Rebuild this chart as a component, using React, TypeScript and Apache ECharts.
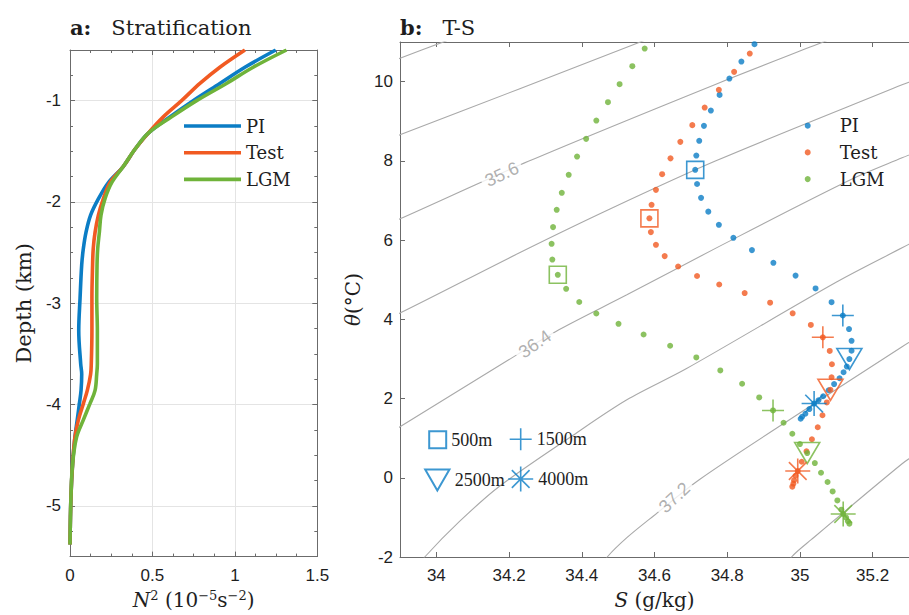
import React, { useEffect, useRef } from "react";
import * as echarts from "echarts";

// ---------- Panel a: stratification profiles ----------
const depthKm = [-0.5, -0.67, -0.83, -1.0, -1.16, -1.32, -1.48, -1.65, -1.81, -1.97, -2.13, -2.3, -2.46, -2.62, -2.95, -3.27, -3.6, -3.7, -3.86, -3.99, -4.15, -4.32, -4.58, -4.9, -5.38];
const n2PI = [1.248, 1.061, 0.909, 0.747, 0.606, 0.475, 0.394, 0.323, 0.232, 0.172, 0.125, 0.097, 0.081, 0.071, 0.061, 0.053, 0.065, 0.071, 0.067, 0.057, 0.044, 0.03, 0.016, 0.006, 0];
const n2Test = [1.061, 0.909, 0.788, 0.677, 0.566, 0.475, 0.394, 0.323, 0.242, 0.202, 0.172, 0.152, 0.141, 0.137, 0.133, 0.133, 0.129, 0.125, 0.105, 0.081, 0.051, 0.03, 0.016, 0.006, 0];
const n2LGM = [1.313, 1.111, 0.949, 0.768, 0.616, 0.475, 0.394, 0.323, 0.253, 0.212, 0.188, 0.178, 0.168, 0.164, 0.162, 0.166, 0.166, 0.162, 0.152, 0.121, 0.081, 0.04, 0.016, 0.006, 0];

// ---------- Panel b: T-S diagram ----------
const tsPI = [[34.875, 10.945], [34.839, 10.506], [34.806, 10.077], [34.779, 9.665], [34.755, 9.269], [34.736, 8.883], [34.723, 8.505], [34.715, 8.134], [34.712, 7.773], [34.717, 7.415], [34.728, 7.066], [34.748, 6.718], [34.777, 6.385], [34.817, 6.057], [34.868, 5.747], [34.927, 5.426], [34.988, 5.103], [35.043, 4.78], [35.087, 4.432], [35.118, 4.096], [35.135, 3.753], [35.142, 3.458], [35.142, 3.206], [35.136, 2.996], [35.129, 2.807], [35.12, 2.663], [35.109, 2.512], [35.094, 2.365], [35.079, 2.209], [35.064, 2.058], [35.051, 1.957], [35.039, 1.873], [35.026, 1.735], [35.015, 1.616], [35.006, 1.54], [35.002, 1.49]];
const tsTest = [[34.862, 10.708], [34.819, 10.246], [34.777, 9.792], [34.738, 9.345], [34.704, 8.901], [34.671, 8.479], [34.644, 8.063], [34.621, 7.664], [34.604, 7.268], [34.592, 6.89], [34.586, 6.549], [34.59, 6.201], [34.604, 5.88], [34.628, 5.595], [34.665, 5.333], [34.717, 5.093], [34.778, 4.879], [34.848, 4.662], [34.918, 4.419], [34.98, 4.152], [35.03, 3.857], [35.063, 3.546], [35.082, 3.201], [35.088, 2.865], [35.087, 2.537], [35.084, 2.222], [35.074, 1.901], [35.062, 1.578], [35.049, 1.275], [35.033, 0.973], [35.018, 0.67], [35.005, 0.405], [34.994, 0.17], [34.988, 0.051], [34.984, -0.062], [34.982, -0.15], [34.979, -0.226]];
const tsLGM = [[34.573, 10.834], [34.539, 10.39], [34.504, 9.935], [34.472, 9.481], [34.44, 9.017], [34.412, 8.555], [34.387, 8.108], [34.364, 7.647], [34.345, 7.193], [34.331, 6.764], [34.321, 6.327], [34.317, 5.906], [34.319, 5.509], [34.334, 5.123], [34.357, 4.77], [34.393, 4.437], [34.44, 4.147], [34.501, 3.887], [34.57, 3.617], [34.643, 3.332], [34.715, 3.037], [34.781, 2.709], [34.841, 2.373], [34.888, 2.027], [34.926, 1.699], [34.955, 1.389], [34.979, 1.111], [35.0, 0.851], [35.02, 0.624], [35.041, 0.372], [35.058, 0.127], [35.076, -0.107], [35.09, -0.345], [35.103, -0.572], [35.114, -0.806], [35.119, -0.915], [35.127, -1.008], [35.132, -1.097], [35.136, -1.16]];

const markerDepths = ["500m", "1500m", "2500m", "4000m"];
const markerIdxPI = [8, 19, 23, 31];
const markerIdxTest = [10, 21, 25, 32];
const markerIdxLGM = [13, 24, 28, 35];

const contourLevels = [34.8, 35.2, 35.6, 36.0, 36.4, 36.8, 37.2, 37.6];
const contourLines = [
  [[33.85, 10.42], [33.9, 10.592], [34.023, 11.015], [34.06, 11.14]],
  [[33.85, 8.48], [33.9, 8.656], [34.226, 9.809], [34.552, 10.97], [34.6, 11.14]],
  [[33.85, 6.35], [33.9, 6.536], [34.253, 7.987], [34.769, 9.935], [35.067, 11.01], [35.1, 11.13]],
  [[33.85, 3.97], [33.9, 4.157], [34.226, 5.666], [34.479, 6.789], [34.769, 8.0], [35.281, 9.918], [35.32, 10.06]],
  [[33.85, 1.0], [33.9, 1.288], [34.199, 2.979], [34.337, 3.736], [34.524, 4.619], [34.769, 5.797], [35.139, 7.521], [35.281, 8.076], [35.32, 8.22]],
  [[33.94, -2.35], [33.968, -2.0], [34.063, -1.109], [34.172, -0.226], [34.37, 1.036], [34.524, 1.969], [34.687, 2.751], [35.102, 4.947], [35.281, 5.805], [35.32, 5.99]],
  [[34.45, -2.3], [34.47, -2.0], [34.524, -1.513], [34.598, -0.958], [34.723, -0.049], [35.005, 1.666], [35.281, 3.307], [35.32, 3.53]],
  [[34.96, -2.3], [34.977, -2.0], [35.031, -1.563], [35.281, 0.354], [35.32, 0.6]],
];
const contourLabelLevels = [35.6, 36.4, 37.2];
const contourLabelAt = [[34.18, 7.66], [34.271, 3.376], [34.655, -0.5]];

// ---------- styles ----------
const C_PI = "#0b7dc5";
const C_TEST = "#f15a22";
const C_LGM = "#6fb33a";
const AXIS = "#6b6b6b";
const TXT = "#1e1e1e";
const SERIF = "DejaVu Serif";
const SANS = "Liberation Sans";

const SQUARE = "path://M0,0H100V100H0Z";
const PLUS = "path://M46.4,0H53.6V46.4H100V53.6H53.6V100H46.4V53.6H0V46.4H46.4Z";
const TRI = "path://M0,0H100L50,86.6Z";
const AST =
  "path://M46.8,0H53.2V46.8H100V53.2H53.2V100H46.8V53.2H0V46.8H46.8Z M16.86,12.34L87.66,83.14L83.14,87.66L12.34,16.86Z M12.34,83.14L83.14,12.34L87.66,16.86L16.86,87.66Z";

function buildOption() {
  const markerSymbols = [SQUARE, PLUS, TRI, AST];
  const markerSizes: any[] = [17, 22, [25, 21], 25];
  const hollow = [true, false, true, false];
  const mstyle = (c: string, k: number) =>
    hollow[k]
      ? { color: "rgba(255,255,255,0)", borderColor: c, borderWidth: 1.6 }
      : { color: c, borderWidth: 0 };

  const tickLabel = { fontFamily: SANS, fontSize: 17, color: TXT };
  const axisLine = { show: true, onZero: false, lineStyle: { color: AXIS, width: 1 } };
  const noLine = { show: false, onZero: false };

  const profile = (name: string, vals: number[], color: string) => ({
    type: "line",
    name,
    xAxisIndex: 0,
    yAxisIndex: 0,
    data: vals.map((v, i) => [v, depthKm[i]]),
    showSymbol: false,
    symbol: "none",
    smooth: 0.35,
    lineStyle: { color, width: 3.6 },
    itemStyle: { color },
    silent: true,
    z: 3,
  });

  const dots = (name: string, pts: number[][], color: string) => ({
    type: "scatter",
    name,
    xAxisIndex: 2,
    yAxisIndex: 4,
    data: pts,
    symbol: "circle",
    symbolSize: 6,
    itemStyle: { color },
    silent: true,
    z: 4,
  });

  const markerSeries = markerDepths.map((name, k) => ({
    type: "scatter",
    name,
    xAxisIndex: 2,
    yAxisIndex: 4,
    symbol: markerSymbols[k],
    symbolSize: markerSizes[k],
    itemStyle: mstyle(C_PI, k),
    silent: true,
    z: 5,
    data: [
      { value: tsPI[markerIdxPI[k]], itemStyle: mstyle(C_PI, k) },
      { value: tsTest[markerIdxTest[k]], itemStyle: mstyle(C_TEST, k) },
      { value: tsLGM[markerIdxLGM[k]], itemStyle: mstyle(C_LGM, k) },
    ],
  }));

  const contourSeries = contourLines.map((pts, i) => ({
    type: "line",
    name: "sigma " + contourLevels[i].toFixed(1),
    xAxisIndex: 2,
    yAxisIndex: 4,
    data: pts,
    showSymbol: false,
    symbol: "none",
    smooth: 0.3,
    lineStyle: { color: "#a9a9a9", width: 1.1 },
    silent: true,
    z: 1,
  }));

  const labelAngles = [25, 35, 43];
  const contourLabelSeries = {
    type: "scatter",
    name: "contour labels",
    xAxisIndex: 2,
    yAxisIndex: 4,
    symbolSize: 1,
    itemStyle: { color: "rgba(255,255,255,0)" },
    silent: true,
    z: 2,
    data: contourLabelAt.map((p, i) => ({
      value: p,
      name: contourLabelLevels[i].toFixed(1),
      label: { rotate: labelAngles[i] },
    })),
    label: {
      show: true,
      position: "inside",
      formatter: "{b}",
      fontFamily: SANS,
      fontSize: 18,
      color: "#9c9c9c",
      backgroundColor: "#ffffff",
      padding: [0, 4],
    },
  };

  const markerLegendPos = [
    { left: 428.2, top: 430.3, w: 17, h: 17 },
    { left: 509.7, top: 428.3, w: 22, h: 22 },
    { left: 424.2, top: 468.5, w: 25, h: 21 },
    { left: 508.2, top: 466.5, w: 25, h: 25 },
  ];

  const splitName = (n: string) => n.split("|")[0];
  const titleRich = {
    b: { fontFamily: SERIF, fontWeight: "bold", fontSize: 21, color: TXT },
    n: { fontFamily: SERIF, fontWeight: "normal", fontSize: 21, color: TXT, padding: [0, 0, 0, 20] },
  };

  return {
    animation: false,
    backgroundColor: "#ffffff",
    title: [
      {
        text: "{b|a:}{n|Stratification}",
        left: 70,
        top: 17,
        padding: 0,
        textStyle: { fontWeight: "normal", rich: titleRich },
      },
      {
        text: "{b|b:}{n|T-S}",
        left: 400,
        top: 17,
        padding: 0,
        textStyle: { fontWeight: "normal", rich: titleRich },
      },
    ],
    legend: [
      {
        data: ["PI|a", "Test|a", "LGM|a"],
        formatter: splitName,
        orient: "vertical",
        left: 184,
        top: 117,
        padding: 0,
        icon: "rect",
        itemWidth: 57,
        itemHeight: 3.6,
        itemGap: 8.7,
        selectedMode: false,
        textStyle: { fontFamily: SERIF, fontSize: 18, color: TXT },
      },
      {
        data: ["PI|b", "Test|b", "LGM|b"],
        formatter: splitName,
        orient: "vertical",
        left: 804.7,
        top: 116.7,
        padding: 0,
        icon: "circle",
        itemWidth: 6,
        itemHeight: 6,
        itemGap: 8.7,
        selectedMode: false,
        textStyle: { fontFamily: SERIF, fontSize: 18, color: TXT, padding: [0, 0, 0, 24] },
      },
      ...markerDepths.map((d, k) => ({
        data: [d],
        orient: "vertical",
        left: markerLegendPos[k].left,
        top: markerLegendPos[k].top,
        padding: 0,
        itemWidth: markerLegendPos[k].w,
        itemHeight: markerLegendPos[k].h,
        selectedMode: false,
        textStyle: { fontFamily: "Liberation Serif", fontSize: 18, color: TXT },
      })),
    ],
    grid: [
      { left: 70, top: 50, width: 247.3, height: 510 },
      { left: 400, top: 42, width: 515.9, height: 515.3 },
    ],
    xAxis: [
      {
        type: "value",
        gridIndex: 0,
        position: "bottom",
        min: 0,
        max: 1.5,
        interval: 0.5,
        axisLine,
        axisTick: { show: true, inside: true, length: 5, lineStyle: { color: AXIS } },
        minorTick: { show: true, splitNumber: 4, length: 3, lineStyle: { color: AXIS } },
        axisLabel: { ...tickLabel, margin: 10 },
        splitLine: { show: true, lineStyle: { color: "#e4e4e4", width: 1 } },
        name: "{i|N}{s|2} (10{s|−5}s{s|−2})",
        nameLocation: "middle",
        nameGap: 30,
        nameTextStyle: {
          fontFamily: SERIF,
          fontSize: 20,
          color: TXT,
          rich: {
            i: { fontFamily: SERIF, fontStyle: "italic", fontSize: 20, color: TXT },
            s: { fontFamily: SERIF, fontSize: 13, color: TXT, padding: [0, 0, 10, 0] },
          },
        },
      },
      {
        type: "value",
        gridIndex: 0,
        position: "top",
        min: 0,
        max: 1.5,
        interval: 0.5,
        axisLine,
        axisTick: { show: true, inside: true, length: 5, lineStyle: { color: AXIS } },
        minorTick: { show: true, splitNumber: 4, length: 3, lineStyle: { color: AXIS } },
        axisLabel: { show: false },
        splitLine: { show: false },
      },
      {
        type: "value",
        gridIndex: 1,
        position: "bottom",
        min: 33.9,
        max: 35.3,
        splitNumber: 7,
        axisLine,
        axisTick: { show: true, inside: true, length: 5, lineStyle: { color: AXIS } },
        axisLabel: { ...tickLabel, margin: 10, showMinLabel: false, showMaxLabel: false },
        splitLine: { show: false },
        name: "{i|S} (g/kg)",
        nameLocation: "middle",
        nameGap: 33,
        nameTextStyle: {
          fontFamily: SERIF,
          fontSize: 20,
          color: TXT,
          rich: { i: { fontFamily: SERIF, fontStyle: "italic", fontSize: 20, color: TXT } },
        },
      },
      {
        type: "value",
        gridIndex: 1,
        position: "top",
        min: 33.9,
        max: 35.3,
        splitNumber: 7,
        axisLine,
        axisTick: { show: true, inside: true, length: 5, lineStyle: { color: AXIS } },
        axisLabel: { show: false },
        splitLine: { show: false },
      },
    ],
    yAxis: [
      {
        type: "value",
        gridIndex: 0,
        position: "left",
        min: -5.5,
        max: -0.5,
        splitNumber: 5,
        axisLine,
        axisTick: { show: true, inside: true, length: 5, lineStyle: { color: AXIS } },
        axisLabel: { ...tickLabel, margin: 9, showMinLabel: false, showMaxLabel: false },
        splitLine: { show: true, lineStyle: { color: "#e4e4e4", width: 1 } },
        name: "Depth (km)",
        nameLocation: "middle",
        nameGap: 36,
        nameTextStyle: { fontFamily: SERIF, fontSize: 21, color: TXT },
      },
      {
        type: "value",
        gridIndex: 0,
        position: "left",
        min: -5.5,
        max: -0.5,
        interval: 0.25,
        axisLine: noLine,
        axisTick: { show: true, inside: true, length: 3, lineStyle: { color: AXIS } },
        axisLabel: { show: false },
        splitLine: { show: false },
      },
      {
        type: "value",
        gridIndex: 0,
        position: "right",
        min: -5.5,
        max: -0.5,
        splitNumber: 5,
        axisLine,
        axisTick: { show: true, inside: true, length: 5, lineStyle: { color: AXIS } },
        axisLabel: { show: false },
        splitLine: { show: false },
      },
      {
        type: "value",
        gridIndex: 0,
        position: "right",
        min: -5.5,
        max: -0.5,
        interval: 0.25,
        axisLine: noLine,
        axisTick: { show: true, inside: true, length: 3, lineStyle: { color: AXIS } },
        axisLabel: { show: false },
        splitLine: { show: false },
      },
      {
        type: "value",
        gridIndex: 1,
        position: "left",
        min: -2,
        max: 11,
        interval: 2,
        axisLine,
        axisTick: { show: true, inside: true, length: 5, lineStyle: { color: AXIS } },
        axisLabel: { ...tickLabel, margin: 7, showMaxLabel: false },
        splitLine: { show: false },
        name: "{i|θ}(°C)",
        nameLocation: "middle",
        nameGap: 37,
        nameTextStyle: {
          fontFamily: SERIF,
          fontSize: 20,
          color: TXT,
          rich: { i: { fontFamily: SERIF, fontStyle: "italic", fontSize: 20, color: TXT } },
        },
      },
    ],
    series: [
      profile("PI|a", n2PI, C_PI),
      profile("Test|a", n2Test, C_TEST),
      profile("LGM|a", n2LGM, C_LGM),
      ...contourSeries,
      contourLabelSeries,
      dots("PI|b", tsPI, C_PI),
      dots("Test|b", tsTest, C_TEST),
      dots("LGM|b", tsLGM, C_LGM),
      ...markerSeries,
    ],
  };
}

export default function App() {
  const ref = useRef<HTMLDivElement>(null);
  useEffect(() => {
    if (!ref.current) return;
    const chart = echarts.init(ref.current, null, { renderer: "svg" });
    chart.setOption(buildOption() as any);
    return () => chart.dispose();
  }, []);
  return (
    <div
      ref={ref}
      style={{ position: "fixed", left: 0, top: 0, width: 909, height: 615, background: "#fff" }}
    />
  );
}
